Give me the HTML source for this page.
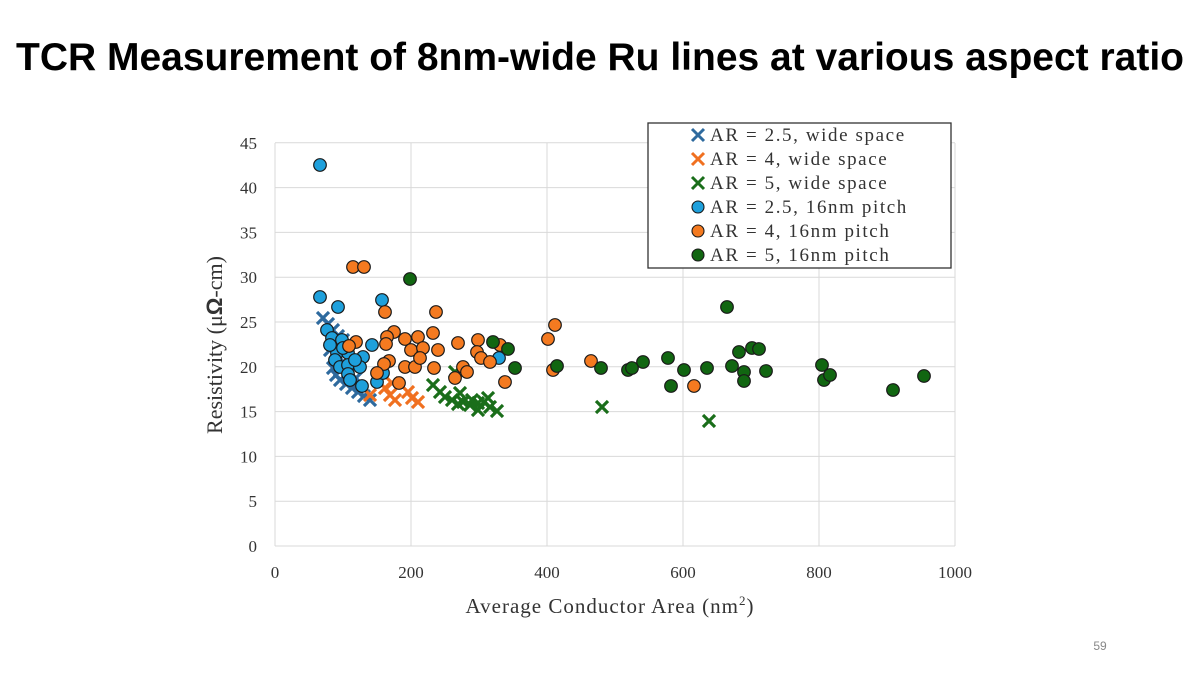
<!DOCTYPE html>
<html><head><meta charset="utf-8"><style>
html,body{margin:0;padding:0;background:#fff;width:1200px;height:675px;overflow:hidden}
svg{display:block}
</style></head><body>
<svg id="s" width="1200" height="675" xmlns="http://www.w3.org/2000/svg">
<text x="600" y="70" text-anchor="middle" font-family="Liberation Sans, sans-serif" font-weight="bold" font-size="39" textLength="1168" lengthAdjust="spacingAndGlyphs">TCR Measurement of 8nm-wide Ru lines at various aspect ratio</text>
<g id="grid" stroke="#d9d9d9" stroke-width="1"></g>
<g id="pts"></g>
<g font-family="Liberation Serif, serif" font-size="17" fill="#333" id="ticks"></g>
<text x="610" y="613" text-anchor="middle" font-family="Liberation Serif, serif" font-size="21" fill="#333" letter-spacing="1">Average Conductor Area (nm<tspan dy="-8" font-size="13">2</tspan><tspan dy="8">)</tspan></text>
<text transform="translate(222,345) rotate(-90)" text-anchor="middle" font-family="Liberation Serif, serif" font-size="22" fill="#333">Resistivity (μ<tspan font-family="Liberation Sans, sans-serif" font-weight="bold">Ω</tspan>-cm)</text>
<rect x="648" y="123" width="303" height="145" fill="#fff" stroke="#333" stroke-width="1.3"/>
<g id="leg" font-family="Liberation Serif, serif" font-size="19" fill="#333" letter-spacing="1.6"></g>
<text x="1100" y="650" text-anchor="middle" font-family="Liberation Sans, sans-serif" font-size="12" fill="#888">59</text>
</svg>
<script>
const NS="http://www.w3.org/2000/svg";
function el(p,t,a){const e=document.createElementNS(NS,t);for(const k in a)e.setAttribute(k,a[k]);p.appendChild(e);return e;}
const g=document.getElementById('grid'),tk=document.getElementById('ticks'),P=document.getElementById('pts');
const X=v=>275+v*0.68,Y=v=>546-v*8.96;
for(let v=0;v<=45;v+=5){el(g,'line',{x1:275,x2:955,y1:Y(v),y2:Y(v)});const t=el(tk,'text',{x:257,y:Y(v)+6,'text-anchor':'end'});t.textContent=v;}
for(let v=0;v<=1000;v+=200){el(g,'line',{x1:X(v),x2:X(v),y1:143,y2:546});const t=el(tk,'text',{x:X(v),y:578,'text-anchor':'middle'});t.textContent=v;}
const C={b:'#2e6a9e',o:'#f07020',g:'#1a6e1a',lb:'#1ea0dc',lo:'#f47a20',lg:'#116611'};
function cross(x,y,c,s=6){el(P,'path',{d:`M${x-s} ${y-s}L${x+s} ${y+s}M${x-s} ${y+s}L${x+s} ${y-s}`,stroke:c,'stroke-width':3.2});}
function dot(x,y,c){el(P,'circle',{cx:x,cy:y,r:6.3,fill:c,stroke:'#1a1a1a','stroke-width':1.2});}
[[323,318],[328,324],[333,330],[338,336],[343,340],[330,350],[333,368],[336,375],[340,380],[346,384],[352,388],[358,392],[364,396],[370,400],[337,356],[344,362],[350,372],[356,378]].forEach(p=>cross(p[0],p[1],C.b));
[[385,388],[390,395],[395,400],[408,392],[412,398],[418,402],[392,383],[370,395]].forEach(p=>cross(p[0],p[1],C.o));
[[433,385],[440,392],[445,397],[452,400],[458,404],[463,402],[470,405],[478,403],[484,402],[490,407],[497,411],[460,393],[472,400],[478,410],[488,398],[455,372],[602,407],[709,421]].forEach(p=>cross(p[0],p[1],C.g));
[[320,165],[320,297],[338,307],[382,300],[327,330],[332,338],[342,340],[372,345],[337,353],[348,353],[363,357],[335,360],[340,367],[348,365],[360,367],[348,374],[350,380],[362,386],[377,382],[383,373],[499,358],[343,348],[355,360],[330,345]].forEach(p=>dot(p[0],p[1],C.lb));
[[353,267],[364,267],[385,312],[436,312],[394,332],[387,337],[356,342],[349,346],[405,339],[418,337],[433,333],[386,344],[389,361],[384,364],[377,373],[399,383],[405,367],[415,367],[411,350],[423,348],[438,350],[420,358],[434,368],[458,343],[478,340],[477,352],[481,358],[490,362],[500,345],[463,367],[467,372],[455,378],[505,382],[555,325],[553,370],[591,361],[694,386],[548,339]].forEach(p=>dot(p[0],p[1],C.lo));
[[410,279],[493,342],[508,349],[557,366],[601,368],[643,362],[668,358],[671,386],[684,370],[707,368],[727,307],[739,352],[732,366],[744,372],[744,381],[752,348],[759,349],[766,371],[822,365],[824,380],[830,375],[893,390],[924,376],[628,370],[632,368],[515,368]].forEach(p=>dot(p[0],p[1],C.lg));
const L=document.getElementById('leg');
const labels=['AR = 2.5, wide space','AR = 4, wide space','AR = 5, wide space','AR = 2.5, 16nm pitch','AR = 4, 16nm pitch','AR = 5, 16nm pitch'];
const cols=[C.b,C.o,C.g,C.lb,C.lo,C.lg];
labels.forEach((s,i)=>{const y=135+i*24;
 if(i<3){el(L,'path',{d:`M${692} ${y-6}L${704} ${y+6}M${692} ${y+6}L${704} ${y-6}`,stroke:cols[i],'stroke-width':3});}
 else el(L,'circle',{cx:698,cy:y,r:6,fill:cols[i],stroke:'#1a1a1a','stroke-width':1.1});
 const t=el(L,'text',{x:710,y:y+6});t.textContent=s;});
</script>
</body></html>
